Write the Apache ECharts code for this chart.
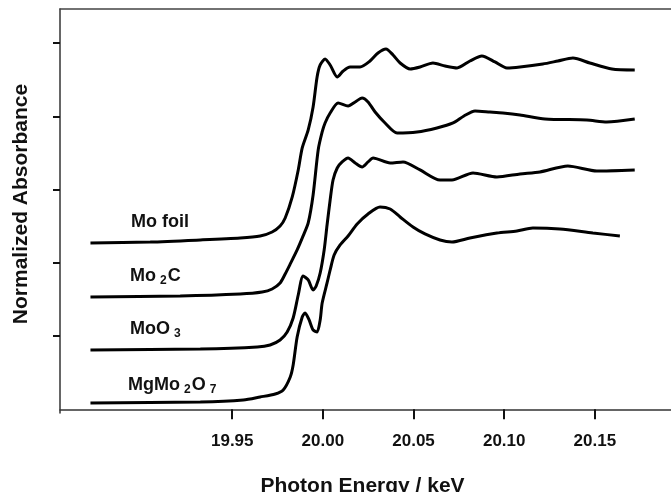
<!DOCTYPE html>
<html>
<head>
<meta charset="utf-8">
<script src="https://cdn.jsdelivr.net/npm/echarts@6/dist/echarts.min.js"></script>
<style>
html,body{margin:0;padding:0;background:#fff;}
#diagram{width:671px;height:492px;}
</style>
</head>
<body>
<div id="diagram"></div>
<script>
// Mo K-edge spectra, stacked (energy in keV, normalized absorbance + offset)
var moFoilE = [19.8718,19.9048,19.9324,19.9544,19.9654,19.9720,19.9764,19.9792,19.9831,19.9864,19.9886,19.9919,19.9946,19.9968,19.9985,20.0012,20.0040,20.0079,20.0112,20.0150,20.0205,20.0260,20.0304,20.0348,20.0387,20.0426,20.0481,20.0536,20.0607,20.0674,20.0740,20.0811,20.0877,20.0949,20.1015,20.1087,20.1213,20.1296,20.1379,20.1472,20.1594,20.1720];
var moFoilA = [2.271,2.284,2.312,2.339,2.366,2.421,2.503,2.612,2.899,3.267,3.568,3.814,4.128,4.537,4.701,4.783,4.701,4.537,4.619,4.673,4.673,4.755,4.865,4.919,4.837,4.728,4.646,4.673,4.728,4.687,4.660,4.755,4.824,4.742,4.660,4.673,4.714,4.755,4.796,4.728,4.646,4.633];

var mo2cE = [19.8718,19.9213,19.9544,19.9665,19.9720,19.9764,19.9792,19.9820,19.9858,19.9891,19.9919,19.9946,19.9974,19.9996,20.0012,20.0040,20.0084,20.0139,20.0178,20.0216,20.0249,20.0288,20.0343,20.0409,20.0519,20.0629,20.0718,20.0778,20.0839,20.0921,20.0993,20.1087,20.1225,20.1456,20.1566,20.1720];
var mo2cA = [1.534,1.548,1.575,1.602,1.643,1.725,1.848,1.985,2.176,2.367,2.544,2.926,3.541,3.786,3.909,4.046,4.183,4.141,4.196,4.250,4.196,4.059,3.909,3.773,3.786,3.841,3.909,4.005,4.073,4.059,4.046,4.019,3.964,3.950,3.923,3.964];

var moo3E = [19.8718,19.9324,19.9638,19.9709,19.9764,19.9803,19.9836,19.9864,19.9891,19.9919,19.9946,19.9963,19.9985,20.0007,20.0023,20.0040,20.0056,20.0079,20.0106,20.0139,20.0178,20.0216,20.0249,20.0277,20.0371,20.0442,20.0536,20.0646,20.0712,20.0828,20.0960,20.1087,20.1197,20.1351,20.1511,20.1720];
var moo3A = [0.810,0.824,0.851,0.879,0.947,1.056,1.247,1.561,1.820,1.766,1.629,1.684,1.861,2.175,2.516,2.858,3.131,3.295,3.377,3.431,3.363,3.308,3.377,3.431,3.363,3.377,3.268,3.131,3.131,3.227,3.172,3.213,3.240,3.322,3.254,3.268];

var mgmoE = [19.8718,19.9324,19.9561,19.9654,19.9737,19.9781,19.9820,19.9836,19.9858,19.9886,19.9902,19.9924,19.9946,19.9968,19.9985,19.9996,20.0023,20.0040,20.0062,20.0095,20.0139,20.0189,20.0249,20.0315,20.0371,20.0426,20.0497,20.0563,20.0646,20.0712,20.0811,20.0960,20.1070,20.1158,20.1307,20.1489,20.1638];
var mgmoA = [0.087,0.101,0.128,0.169,0.210,0.264,0.442,0.605,0.988,1.261,1.316,1.220,1.084,1.056,1.220,1.452,1.725,1.902,2.107,2.244,2.367,2.531,2.667,2.763,2.735,2.626,2.489,2.394,2.312,2.285,2.339,2.407,2.435,2.476,2.462,2.407,2.367];

var xTicks = [19.95, 20.00, 20.05, 20.10, 20.15];
var yTicks = [1, 2, 3, 4, 5];

var font = "'Liberation Sans', Arial, sans-serif";

function pairs(xs, ys){
	var out = [];
	for(var i=0;i<xs.length;i++){ out.push([xs[i], ys[i]]); }
	return out;
}

function curve(name, xs, ys){
	return {
		name: name,
		type: 'line',
		data: pairs(xs, ys),
		showSymbol: false,
		smooth: 0.25,
		lineStyle: { color: '#000', width: 3 },
		silent: true
	};
}

var subRich = {
	b: { fontSize: 18, fontWeight: 'bold', fontFamily: font, color: '#111' },
	s: { fontSize: 12, fontWeight: 'bold', fontFamily: font, color: '#111', padding: [10, 1, 0, 4] }
};

function label(left, top, text){
	return {
		type: 'text',
		left: left,
		top: top,
		style: {
			text: text,
			font: 'bold 18px ' + font,
			fill: '#111',
			rich: subRich
		}
	};
}

var option = {
	animation: false,
	backgroundColor: '#fff',
	grid: { left: 60, top: 9, right: 0, bottom: 79, outerBoundsMode: 'none', containLabel: false },
	xAxis: [{
		type: 'value',
		min: 19.855,
		max: 20.192,
		name: 'Photon Energy / keV',
		nameLocation: 'middle',
		nameGap: 63,
		nameTextStyle: { fontFamily: font, fontWeight: 'bold', fontSize: 21, color: '#111', padding: [0, 6, 0, 0] },
		splitLine: { show: false },
		axisLine: { lineStyle: { color: '#333', width: 1.5 } },
		axisTick: { customValues: xTicks, length: 10, lineStyle: { color: '#111', width: 2 } },
		axisLabel: {
			customValues: xTicks,
			margin: 20,
			fontFamily: font, fontWeight: 'bold', fontSize: 17, color: '#111',
			formatter: function(v){ return v.toFixed(2); }
		}
	}, {
		type: 'value',
		position: 'top',
		min: 19.855,
		max: 20.192,
		splitLine: { show: false },
		axisLine: { show: true, lineStyle: { color: '#444', width: 1.5 } },
		axisTick: { show: false },
		axisLabel: { show: false }
	}],
	yAxis: {
		type: 'value',
		min: -0.05,
		max: 5.465,
		name: 'Normalized Absorbance',
		nameLocation: 'middle',
		nameGap: 28,
		nameRotate: 90,
		nameTextStyle: { fontFamily: font, fontWeight: 'bold', fontSize: 21, color: '#111', padding: [0, 0, 0, 14] },
		splitLine: { show: false },
		axisLine: { show: true, lineStyle: { color: '#333', width: 1.5 } },
		axisTick: { customValues: yTicks, length: 7, lineStyle: { color: '#111', width: 2 } },
		axisLabel: { show: false }
	},
	graphic: [
		label(131, 213, '{b|Mo foil}'),
		label(130, 267, '{b|Mo}{s|2}{b|C}'),
		label(130, 320, '{b|MoO}{s|3}'),
		label(128, 376, '{b|MgMo}{s|2}{b|O}{s|7}')
	],
	series: [
		curve('Mo foil', moFoilE, moFoilA),
		curve('Mo2C', mo2cE, mo2cA),
		curve('MoO3', moo3E, moo3A),
		curve('MgMo2O7', mgmoE, mgmoA)
	]
};

var myChart = echarts.init(document.getElementById('diagram'), null, { renderer: 'canvas' });
myChart.setOption(option);
</script>
</body>
</html>
